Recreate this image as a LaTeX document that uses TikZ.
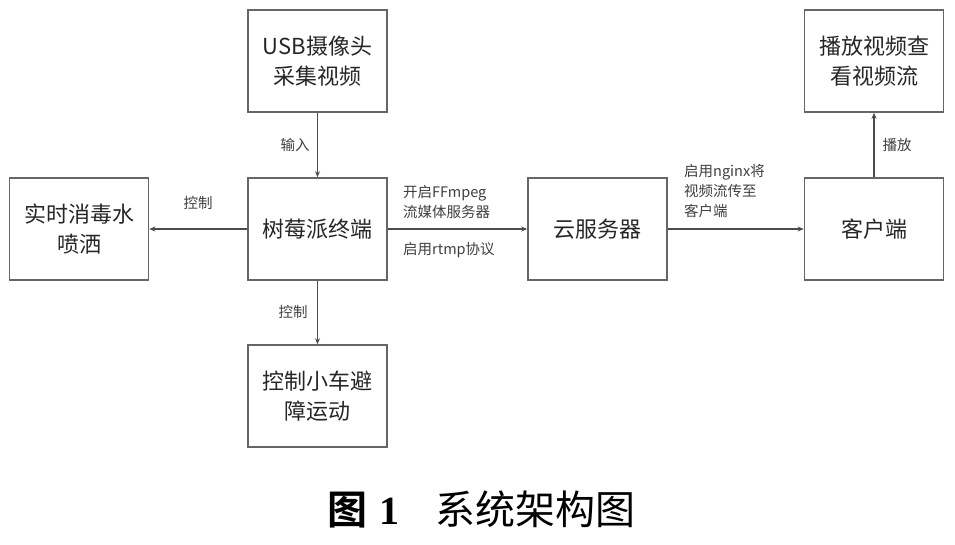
\documentclass[tikz,border=0pt]{standalone}
\usepackage{fontspec}
\newfontfamily\cjk{Noto Sans CJK SC}
\newfontfamily\cjkb{Noto Sans CJK SC}[BoldFont={* Bold}]
\newfontfamily\serifnum{Liberation Serif}
\usetikzlibrary{arrows.meta}
\tikzset{
  box/.style={draw=black!60, line width=1.6pt, minimum width=139pt, minimum height=102pt, align=center, inner sep=0pt,
    font=\cjk\fontsize{22}{30}\selectfont, text=black!85},
  lbl/.style={font=\cjk\fontsize{14.5}{20}\selectfont, text=black!75, inner sep=0pt},
  conn/.style={draw=black!70, line width=1.3pt, -{Stealth[length=6pt,width=5pt]}}
}
\begin{document}
\begin{tikzpicture}[x=1pt,y=-1pt]
\useasboundingbox[fill=white] (0,0) rectangle (955,544);
\node[box] (usb) at (317.5,61) {USB摄像头\\采集视频};
\node[box] (pi) at (317.5,229) {树莓派终端};
\node[box] (car) at (317.5,396) {控制小车避\\障运动};
\node[box] (spray) at (79,229) {实时消毒水\\喷洒};
\node[box] (cloud) at (597.5,229) {云服务器};
\node[box] (client) at (874,229) {客户端};
\node[box] (play) at (874,61) {播放视频查\\看视频流};
\draw[conn] (usb) -- (pi);
\draw[conn] (pi) -- (spray);
\draw[conn] (pi) -- (car);
\draw[conn] (pi) -- (cloud);
\draw[conn] (cloud) -- (client);
\draw[conn] (client) -- (play);
\node[lbl] (l1) at (295,145) {输入};
\node[lbl] (l2) at (198,203) {控制};
\node[lbl] (l3) at (293,312) {控制};
\node[lbl, align=left, anchor=west] (l4) at (403,202) {开启FFmpeg\\流媒体服务器};
\node[lbl, anchor=west] (l5) at (403,250) {启用rtmp协议};
\node[lbl, align=left, anchor=west] (l6) at (684,191) {启用nginx将\\视频流传至\\客户端};
\node[lbl] (l7) at (897,145) {播放};
\node (cap) at (481,509) {\cjkb\bfseries\fontsize{40}{44}\selectfont 图\hspace{0.3em}{\serifnum 1}\hspace{0.9em}\mdseries 系统架构图};
\end{tikzpicture}
\end{document}
